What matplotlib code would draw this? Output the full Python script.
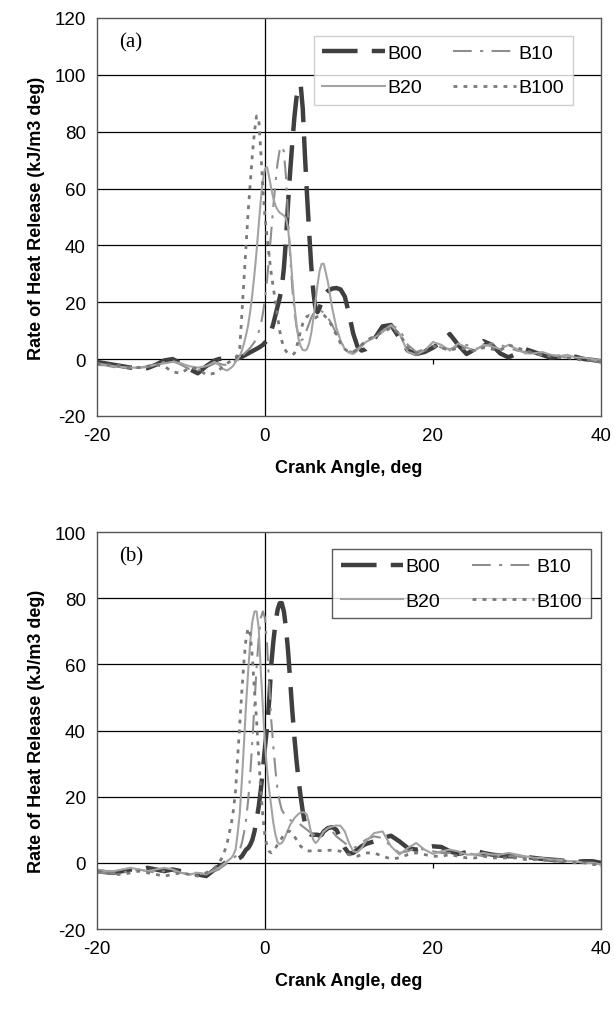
import numpy as np
import matplotlib
matplotlib.use("Agg")
import matplotlib.pyplot as plt

plt.rcParams['font.family'] = ['Liberation Sans', 'DejaVu Sans']
plt.rcParams['axes.unicode_minus'] = False

# crank angle grid shared by all curves (fine steps around combustion)
crank_deg = np.concatenate([
    np.arange(-20, -6.5, 1.0),
    np.arange(-6, -4.25, 0.5),
    np.arange(-4, 7.125, 0.25),
    np.arange(7.5, 12.25, 0.5),
    np.arange(13, 40.5, 1.0),
])

labels = ['B00', 'B10', 'B20', 'B100']

# (a) heat release rate, kJ/m3 deg
a_b00 = [-1.0, -1.5, -2.0, -2.5, -3.0, -2.8, -3.2, -2.0, -0.5, 0.0, -1.5, -3.5, -5.0, -2.5,
         -0.5, 0.0, 0.2, 0.0,
         0.0, 0.1, 0.2, 0.3, 0.5, 0.8, 1.2, 1.6, 2.0, 2.4, 2.8, 3.2, 3.6, 4.0, 4.5, 5.0,
         5.8, 6.8, 8.0, 10.0, 12.5, 15.5, 18.5, 21.5, 25, 32, 42, 55, 66, 76, 85, 92,
         96, 96.5, 88, 72, 58, 45, 33, 24, 18, 16.5, 18, 20.5, 22.5,
         24, 24.8, 25, 24.5, 22, 16, 9, 4.5, 3, 3.5,
         7, 11.5, 12, 7.5, 3, 1.8, 2.5, 4, 6, 8.8, 5, 1.8, 3.5, 6.3, 5, 2, 0.6, 2, 3.5, 2.5,
         1.5, 0.5, 0.8, 0.5, 0.8, 0, -0.3, -0.8]
a_b10 = [-2.0, -2.2, -2.8, -3.0, -3.2, -3.0, -2.8, -2.0, -1.0, -0.5, -2.0, -3.5, -4.0, -3.0,
         -1.5, -1.5, -2.0, -2.0,
         -1.5, -1.0, -0.5, 0.0, 0.5, 1.0, 1.8, 2.5, 3.2, 4.0, 5.0, 6.0, 7.5, 9.5, 12, 16,
         21, 28, 36, 45, 54, 62, 69, 73.5, 75, 73, 64, 50, 36, 25, 17, 11.5,
         8, 6.5, 7, 8.5, 10.5, 12.5, 14.5, 16, 16.8, 17, 17, 16.8, 16.3,
         14.5, 12, 9, 6, 4, 2.8, 2.4, 3.5, 5, 6.5,
         8, 10, 12, 10.5, 5, 2.5, 3.5, 5.5, 4, 3.5, 4.5, 5, 3.5, 4.5, 5.5, 5, 4, 3, 2.5, 2,
         1.5, 1.5, 1, 0.5, 0.5, 0, -0.5, -1]
a_b20 = [-1.5, -2.0, -2.5, -2.8, -3.0, -3.0, -2.5, -2.0, -1.5, -1.0, -1.5, -2.5, -3.0, -2.5,
         -1.0, -2.0, -3.5, -4.0,
         -3.0, -2.2, -1.0, 0.0, 1.0, 3.0, 5.5, 8.5, 12, 17, 23, 30, 38, 47, 56, 63,
         67, 67.5, 64, 60, 56.5, 54, 52.5, 51.5, 51, 50.5, 49.5, 46, 38, 28, 19, 12,
         7, 4.5, 3.2, 3, 3.5, 5.5, 9, 14, 20, 26, 31, 33.5, 33.5,
         27, 18, 11, 6.5, 3.5, 2.2, 1.8, 3, 4.5, 6,
         7.5, 9.5, 11.8, 9, 2.5, 1.5, 3, 6, 5, 3, 5.5, 4, 3, 5, 4.5, 3.5, 5, 3.5, 2, 2,
         2.5, 1.5, 1, 1.5, 0.5, 0.5, 0, -0.5]
a_b100 = [-1.5, -2.0, -2.0, -2.5, -3.0, -3.0, -2.5, -2.0, -2.5, -4.5, -5.0, -3.0, -3.5, -5.5,
          -5.0, -4.0, -2.5, -1.5,
          -0.5, 0.0, 0.5, 1.5, 4, 16, 28, 40, 52, 62, 72, 80, 85.5, 85, 73, 60,
          50, 43, 36, 30, 25, 20, 15, 10, 6.5, 4, 2.8, 2, 1.6, 1.5, 2, 4,
          7, 10, 12.5, 14, 15, 15.3, 15, 14.5, 14.5, 15, 15.5, 15.8, 15.5,
          14, 11.5, 8.5, 5.5, 3.5, 2.5, 2.5, 3.5, 5, 6.5,
          8, 9.5, 11, 9, 4, 2, 3, 4.5, 4, 3, 4, 3.5, 3, 4, 3.5, 3, 5, 4, 3, 2,
          1.5, 1, 0.5, 0.5, 0, -0.5, -0.5, -1]

# (b) heat release rate, kJ/m3 deg
b_b00 = [-2.5, -2.8, -3.0, -2.5, -2.0, -2.2, -1.5, -2.0, -2.5, -2.0, -2.5, -3.0, -3.5, -4.0,
         -2.0, -1.0, -0.5, 0.5,
         0.5, 0.8, 1.0, 1.2, 1.5, 2.0, 3.0, 4.0, 4.5, 5.5, 7.0, 9.5, 13, 17, 22, 28,
         35, 41, 49, 60, 67, 72.5, 76.5, 78.5, 78.5, 76, 71, 64, 55, 46, 38, 31,
         25, 20, 15.5, 12, 10, 9, 8.5, 8.5, 8.5, 8.5, 8.2, 8.5, 9.5,
         10.5, 10.8, 10, 7.5, 4.5, 2.8, 3, 4, 5, 5.7,
         6.5, 7.5, 8.2, 6.5, 4.5, 4, 4.5, 5, 4.8, 3.5, 2.7, 3.2, 3.7, 3, 2.5, 2.2, 2, 2, 1.8, 1.5,
         1.2, 1, 0.8, 0.5, 0.3, 0.5, 0.5, 0]
b_b10 = [-3.0, -3.0, -3.2, -3.0, -2.5, -2.0, -2.5, -3.0, -2.5, -2.5, -3.0, -3.5, -3.5, -3.0,
         -2.5, -2.0, -1.0, 0.0,
         1.0, 1.5, 2.0, 3.0, 4, 6, 9, 13, 19, 27, 37, 48, 59, 68, 74, 76,
         74, 66, 54, 43, 35, 28, 22, 18.5, 16, 15, 14.5, 14, 13, 12.5, 12.5, 12.5,
         12, 11.5, 11, 10.5, 10, 9.5, 9, 8.5, 8.5, 8.5, 8.5, 9, 9.5,
         10, 9.5, 8, 7, 6, 5, 4.5, 5, 6, 7,
         8, 7.5, 5, 3, 3.5, 4.5, 4, 3.5, 3, 3, 2.5, 3, 2.5, 2, 2.5, 2, 2, 2, 1.5, 1.5,
         1, 1, 0.5, 0.5, 0, 0, 0, -0.5]
b_b20 = [-2.0, -2.5, -2.5, -2.0, -1.5, -2.0, -2.5, -2.0, -1.5, -2.0, -3.0, -3.5, -3.0, -3.5,
         -2.0, -1.5, -0.5, 0.5,
         1.5, 2.5, 4, 9, 15, 25, 36, 48, 58, 67, 73, 76, 76, 71, 58, 47,
         36, 28, 22, 17, 12, 8.5, 6.2, 5.7, 6, 7, 8.5, 10, 11.5, 12.5, 13.5, 14.2,
         14.8, 15.2, 15.3, 15.2, 14.5, 12, 9, 7, 6, 6.5, 7.5, 8.5, 9.5,
         10.5, 11, 11.3, 11.2, 9.5, 6, 3.5, 3.2, 4.5, 6.5,
         9, 9.5, 5, 2.5, 4.5, 6, 4, 2.7, 3.5, 4, 3.5, 2.5, 2.5, 3, 2.5, 2.5, 3, 2.5, 2, 1.5,
         1.5, 1, 1, 0.5, 0.5, 0, 0, -0.5]
b_b100 = [-2.5, -3.0, -3.5, -3.5, -3.0, -2.5, -3.0, -3.5, -4.0, -3.5, -3.0, -3.5, -4.0, -3.0,
          -1.5, 0.0, 2.0, 6.0,
          12, 16, 22, 32, 42, 52, 61, 68, 71, 69, 62, 52, 43, 32, 22, 14,
          8, 5, 3.5, 3, 3.5, 4.5, 5.5, 6.5, 7.5, 8.5, 9.2, 9.5, 9.5, 9, 8, 7,
          6, 5, 4.5, 4, 3.7, 3.6, 3.6, 3.6, 3.6, 3.7, 3.7, 3.7, 3.8,
          3.8, 3.8, 3.7, 3.5, 3, 2.5, 2, 2, 2.5, 3,
          3, 2, 1.2, 1.5, 2.5, 3, 2.5, 2, 2, 2.5, 2, 1.5, 1.5, 2, 1.5, 1.5, 1.5, 1.5, 1, 1,
          1, 0.5, 0.5, 0.5, 0, 0, -0.5, -0.5]

styles = {
    'B00': dict(color='#3f3f3f', lw=3.2, dashes=(8, 3.2)),
    'B10': dict(color='#8e8e8e', lw=1.5, dashes=(9, 4, 1.5, 4)),
    'B20': dict(color='#a3a3a3', lw=1.5),
    'B100': dict(color='#7a7a7a', lw=2.0, dashes=(1.4, 2.2)),
}

# legend reads row by row: B00 B10 / B20 B100
legend_order = ['B00', 'B20', 'B10', 'B100']


def draw_panel(ax, series, ymin, ymax, tag, legend_xy, legend_edge):
    lines = {}
    for name in labels:
        lines[name], = ax.plot(crank_deg, series[name], label=name, **styles[name])
    ax.set_xlim(-20, 40)
    ax.set_ylim(ymin, ymax)
    ax.set_xticks([-20, 0, 20, 40])
    ax.set_yticks(np.arange(ymin, ymax + 1, 20))
    for y in np.arange(ymin + 20, ymax, 20):
        ax.axhline(y, color='black', lw=0.9, zorder=0)
    ax.axvline(0, color='black', lw=0.9, zorder=0)
    ax.vlines([20, 40], -1.6, 0, color='black', lw=0.9, zorder=0)
    for sp in ax.spines.values():
        sp.set_color('#555555')
        sp.set_linewidth(1.0)
    ax.tick_params(length=0, labelsize=13.5, pad=8)
    ax.set_xlabel('Crank Angle, deg', fontsize=13, fontweight='bold', labelpad=11)
    ax.set_ylabel('Rate of Heat Release (kJ/m3 deg)', fontsize=13,
                  fontweight='bold', labelpad=7)
    ax.text(0.043, 0.94, tag, transform=ax.transAxes, fontsize=15,
            family='Liberation Serif', va='center', ha='left')
    leg = ax.legend([lines[n] for n in legend_order], legend_order, ncol=2,
                    loc='upper left', bbox_to_anchor=legend_xy,
                    fontsize=14, frameon=True, fancybox=False,
                    handlelength=3.2, handletextpad=0.15, columnspacing=1.6,
                    labelspacing=0.85, borderpad=0.45, borderaxespad=0)
    leg.get_frame().set_edgecolor(legend_edge)
    leg.get_frame().set_linewidth(1.0)


fig = plt.figure(figsize=(6.15, 10.12), dpi=100)
ax_a = fig.add_axes([0.1577, 0.588, 0.8195, 0.3933])
ax_b = fig.add_axes([0.1577, 0.081, 0.8195, 0.3923])

draw_panel(ax_a, {'B00': a_b00, 'B10': a_b10, 'B20': a_b20, 'B100': a_b100},
           -20, 120, '(a)', (0.43, 0.955), '#c4c4c4')
draw_panel(ax_b, {'B00': b_b00, 'B10': b_b10, 'B20': b_b20, 'B100': b_b100},
           -20, 100, '(b)', (0.466, 0.957), '#333333')

fig.savefig('out.png', dpi=100)
